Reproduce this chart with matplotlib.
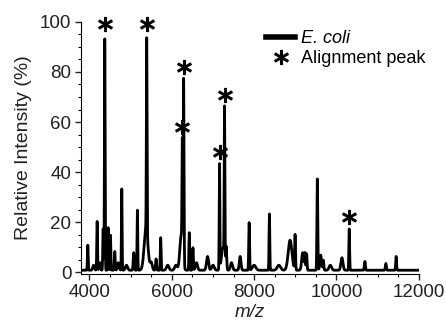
import numpy as np
import matplotlib.pyplot as plt

plt.rcParams['font.family'] = ['Liberation Sans', 'DejaVu Sans']

# peak list: m/z, relative intensity (%), width (sigma, m/z)
peak_mz = [3959, 4100, 4186, 4250, 4332, 4371, 4453, 4509, 4614, 4700, 4784, 4900,
           5075, 5164, 5374, 5390, 5500, 5617, 5729, 5900, 6100, 6230, 6255, 6287,
           6424, 6513, 6600, 6868, 7000, 7159, 7240, 7280, 7321, 7450, 7660, 7879,
           8000, 8371, 8600, 8873, 8994, 9180, 9236, 9275, 9535, 9616, 9680, 9850,
           10133, 10310, 10690, 11200, 11450]
peak_int = [10, 2, 19.5, 3, 16.5, 92.5, 17, 14, 7.5, 3, 32.5, 2,
            7, 24, 17, 77, 3, 4.5, 13, 2, 2, 14, 42, 73,
            15, 9, 3, 5.5, 2, 42, 9, 61, 9, 3, 5.5, 19,
            2, 22.5, 2, 12, 14, 7, 6.5, 6.5, 36.5, 6, 4, 2,
            5, 16.5, 3.5, 2.7, 5.5]
peak_w = [9, 20, 9, 15, 9, 8, 9, 9, 10, 20, 8, 25,
          12, 8, 45, 8, 25, 12, 9, 30, 30, 35, 8, 9,
          9, 10, 25, 25, 30, 8, 35, 8, 12, 25, 20, 10,
          40, 9, 40, 45, 10, 25, 10, 10, 10, 20, 12, 30,
          25, 9, 12, 12, 10]

# alignment peaks marked with an asterisk (m/z, apparent height)
align_mz = [4371, 5390, 6287, 6255, 7159, 7280, 10310]
align_int = [94, 94, 77, 53, 43, 66, 17]

baseline = 0.8

mz = np.linspace(3850, 12000, 8000)
spectrum = np.full_like(mz, baseline)
for c, h, w in zip(peak_mz, peak_int, peak_w):
    spectrum += h * np.exp(-0.5 * ((mz - c) / w) ** 2)

fig = plt.figure(figsize=(4.46, 3.32), dpi=100)
ax = fig.add_axes([0.182, 0.174, 0.757, 0.76])

ax.plot(mz, spectrum, color='black', linewidth=2, label='E. coli')
ax.plot(align_mz, np.array(align_int) + 5, linestyle='none', marker='$*$',
        markersize=10, color='black', clip_on=False, label='Alignment peak')

ax.set_xlim(3798, 12000)
ax.set_ylim(-0.8, 100)
ax.set_xticks([4000, 6000, 8000, 10000, 12000])
ax.set_xticks(np.arange(4000, 12001, 500), minor=True)
ax.set_yticks([0, 20, 40, 60, 80, 100])
ax.set_yticks(np.arange(0, 101, 5), minor=True)
ax.tick_params(labelsize=13.5, length=4, width=1, colors='#222222', pad=3)
ax.tick_params(which='minor', length=2.5, width=0.8)

for s in ['top', 'right']:
    ax.spines[s].set_visible(False)

ax.set_xlabel('m/z', fontsize=13.5, fontstyle='italic', color='#222222', labelpad=2)
ax.set_ylabel('Relative Intensity (%)', fontsize=14, color='#222222', labelpad=6)

leg = ax.legend(loc='upper right', bbox_to_anchor=(1.04, 0.995), frameon=False,
                fontsize=13, handlelength=1.6, handletextpad=0.3,
                labelspacing=0.15, borderaxespad=0)
leg.get_lines()[0].set_linewidth(4)
leg.get_texts()[0].set_fontstyle('italic')

fig.savefig('out.png', dpi=100)
